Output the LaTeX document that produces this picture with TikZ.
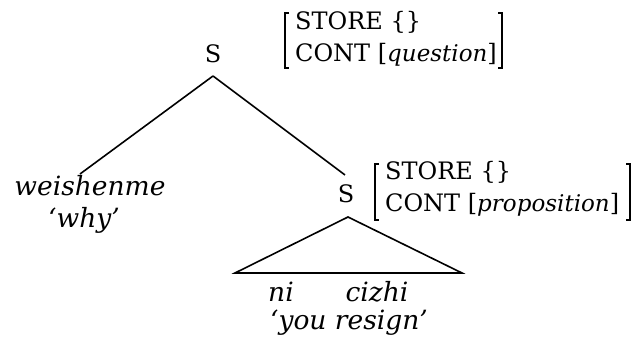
\documentclass[tikz,border=0pt]{standalone}
\usepackage{fontspec}
\setmainfont{DejaVu Serif}
\begin{document}
\begin{tikzpicture}[x=1pt,y=-1pt,
  up/.style={inner sep=0pt, font=\fontsize{24}{28}\selectfont},
  itx/.style={inner sep=0pt, font=\fontsize{26.5}{30}\selectfont\itshape},
  branch/.style={line width=1.6pt, line join=miter},
  brk/.style={line width=1.3pt, line join=miter}]
\useasboundingbox (0,0) rectangle (638,344);
\newcommand{\itw}[1]{{\fontsize{23}{26}\selectfont\itshape #1}}
% top S and AVM
\node[up, anchor=base] (S1) at (213,63) {S};
\node[up, anchor=base west] (st1) at (295,30) {STORE \{\}};
\node[up, anchor=base west] (ct1) at (295,62) {CONT [\itw{question}]};
\draw[brk] (289,13) -- (285,13) -- (285,68) -- (289,68);
\draw[brk] (498,13) -- (502,13) -- (502,68) -- (498,68);
% left leaf
\node[itx, anchor=base] (wsm) at (90,196) {weishenme};
\node[itx, anchor=base] (why) at (84,228) {‘why’};
% lower S and AVM
\node[up, anchor=base] (S2) at (346,203) {S};
\node[up, anchor=base west] (st2) at (385,180) {STORE \{\}};
\node[up, anchor=base west] (ct2) at (385,212) {CONT [\itw{proposition}]};
\draw[brk] (379,164) -- (375,164) -- (375,220) -- (379,220);
\draw[brk] (626,164) -- (630,164) -- (630,220) -- (626,220);
% bottom leaves
\node[itx, anchor=base] (ni) at (281,302) {ni};
\node[itx, anchor=base] (cizhi) at (377,302) {cizhi};
\node[itx, anchor=base] (yr) at (349,330) {‘you resign’};
% branch points
\coordinate (S1f) at (213,76);
\coordinate (wsmt) at (80,174);
\coordinate (S2t) at (345,175);
\coordinate (S2f) at (348,217);
\coordinate (triL) at (235,273);
\coordinate (triR) at (462,273);
\draw[branch] (S1f) -- (wsmt);
\draw[branch] (S1f) -- (S2t);
\draw[branch] (S2f) -- (triL) -- (triR) -- cycle;
\end{tikzpicture}
\end{document}
